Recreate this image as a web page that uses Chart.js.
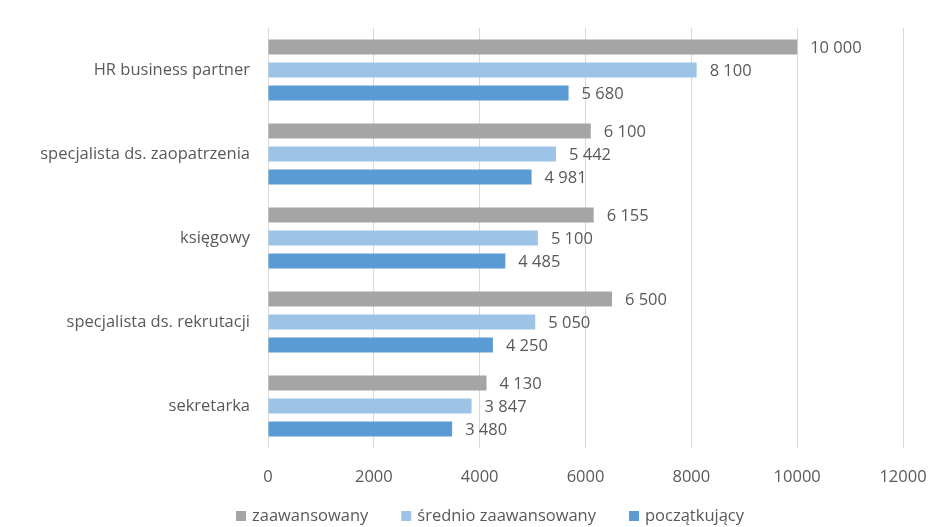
<!DOCTYPE html>
<html><head><meta charset="utf-8">
<script src="https://cdn.jsdelivr.net/npm/chart.js@4"></script>
<style>html,body{margin:0;padding:0;background:#fff}#wrap{width:929px;height:527px}</style>
</head><body><div id="wrap"><canvas id="c" width="929" height="527"></canvas></div>
<script>
const categories = ["HR business partner","specjalista ds. zaopatrzenia","księgowy","specjalista ds. rekrutacji","sekretarka"];
const seriesNames = ["zaawansowany","średnio zaawansowany","początkujący"];
const seriesColors = ["#A5A5A5","#9DC3E6","#5B9BD5"];
const zaawansowany = [10000, 6100, 6155, 6500, 4130];
const srednio = [8100, 5442, 5100, 5050, 3847];
const poczatkujacy = [5680, 4981, 4485, 4250, 3480];
const xTicks = [0,2000,4000,6000,8000,10000,12000];

const FONT = "'Open Sans'";
const FS = 16.5;
const TXT = "#595959";
function fmt(v){ return String(v).replace(/\B(?=(\d{3})+(?!\d))/g, " "); }

const labelPlugin = {
  id: "valLabels",
  afterDatasetsDraw(chart){
    const ctx = chart.ctx;
    ctx.save();
    ctx.font = FS + "px " + FONT;
    ctx.fillStyle = TXT;
    ctx.textAlign = "left";
    ctx.textBaseline = "middle";
    chart.data.datasets.forEach((ds, i) => {
      const meta = chart.getDatasetMeta(i);
      meta.data.forEach((bar, j) => {
        ctx.fillText(fmt(ds.data[j]), bar.x + 13, bar.y + 1);
      });
    });
    ctx.restore();
  }
};

const legendPlugin = {
  id: "customLegend",
  afterDraw(chart){
    const ctx = chart.ctx;
    ctx.save();
    ctx.font = FS + "px " + FONT;
    ctx.textBaseline = "middle";
    const y = 516, box = 10, gapText = 6, gapItem = 33;
    let x = 236;
    chart.data.datasets.forEach(ds => {
      const w = ctx.measureText(ds.label).width;
      ctx.fillStyle = ds.backgroundColor;
      ctx.fillRect(x, y - box / 2, box, box);
      ctx.fillStyle = TXT;
      ctx.fillText(ds.label, x + box + gapText, y);
      x += box + gapText + w + gapItem;
    });
    ctx.restore();
  }
};

new Chart(document.getElementById("c"), {
  type: "bar",
  data: {
    labels: categories,
    datasets: [
      {label: seriesNames[0], data: zaawansowany, backgroundColor: seriesColors[0]},
      {label: seriesNames[1], data: srednio, backgroundColor: seriesColors[1]},
      {label: seriesNames[2], data: poczatkujacy, backgroundColor: seriesColors[2]}
    ]
  },
  options: {
    indexAxis: "y",
    responsive: false,
    animation: false,
    devicePixelRatio: 1,
    datasets: { bar: { categoryPercentage: 0.82, barPercentage: 0.65 } },
    layout: { padding: { top: 28, right: 26, bottom: 24, left: 0 } },
    plugins: {
      legend: { display: false },
      tooltip: { enabled: false }
    },
    scales: {
      x: {
        min: 0, max: 12000,
        afterBuildTicks(s){ s.ticks = xTicks.map(v => ({value: v})); },
        grid: { color: "#D9D9D9", lineWidth: 1, drawTicks: false },
        border: { display: false },
        ticks: { font: { family: "Open Sans", size: FS }, color: TXT, padding: 19, callback: v => String(v) },
        afterFit(s){ s.height = 55; s.paddingRight = 0; s.paddingLeft = 0; }
      },
      y: {
        grid: { display: false },
        border: { display: false },
        ticks: { font: { family: "Open Sans", size: FS }, color: TXT, padding: 10 },
        afterFit(s){ s.width = 268; s.paddingTop = 0; s.paddingBottom = 0; }
      }
    }
  },
  plugins: [labelPlugin, legendPlugin]
});
</script></body></html>
